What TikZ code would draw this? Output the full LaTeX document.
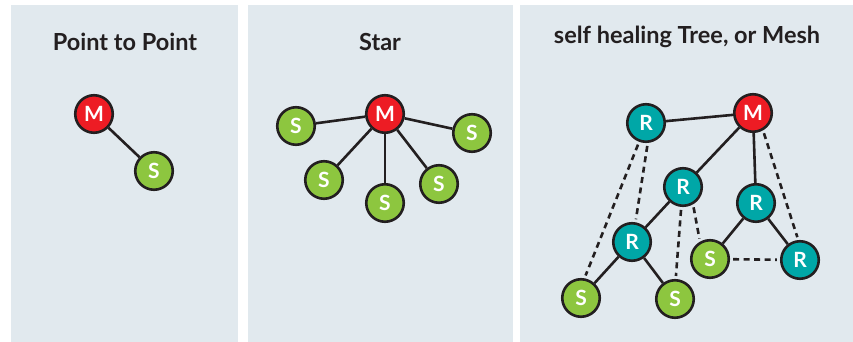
\documentclass[tikz,border=0pt]{standalone}
\usepackage{fontspec}
\setmainfont{Lato}
\definecolor{panelbg}{HTML}{E1E9EE}
\definecolor{edgeblk}{HTML}{231F20}
\definecolor{mred}{HTML}{ED1C24}
\definecolor{sgreen}{HTML}{8DC63F}
\definecolor{rteal}{HTML}{00A7A7}
\tikzset{
  unit/.style={circle,draw=edgeblk,line width=2.6pt,minimum size=37.5pt,inner sep=0pt,
    text=white,font=\fontsize{21}{21}\selectfont\bfseries},
  mnode/.style={unit,fill=mred},
  snode/.style={unit,fill=sgreen},
  rnode/.style={unit,fill=rteal},
  link/.style={draw=edgeblk,line width=2.6pt},
  backup/.style={draw=edgeblk,line width=2.6pt,dash pattern=on 6pt off 4.5pt,shorten <=3pt,shorten >=3pt},
  heading/.style={text=edgeblk,font=\fontsize{23.5}{24}\selectfont\bfseries}
}
\begin{document}
\begin{tikzpicture}[x=1pt,y=-1pt]
\useasboundingbox (0,0) rectangle (853,342);
\fill[white] (0,0) rectangle (853,342);
% panels
\fill[panelbg] (11,5) rectangle (238,342);
\fill[panelbg] (248,5) rectangle (513,342);
\fill[panelbg] (520,5) rectangle (853,342);
\node[heading] (t1) at (125,42) {Point to Point};
\node[heading] (t2) at (380,42) {Star};
\node[heading] (t3) at (687,37) {self healing Tree, or Mesh};
% point to point
\node[mnode] (pm) at (94,114) {M};
\node[snode] (ps) at (154,171) {S};
\draw[link] (pm) -- (ps);
% star
\node[mnode] (sm) at (385,114) {M};
\node[snode] (s1) at (296,126) {S};
\node[snode] (s2) at (324,180) {S};
\node[snode] (s3) at (385,203) {S};
\node[snode] (s4) at (439,184) {S};
\node[snode] (s5) at (472,133) {S};
\foreach \n in {s1,s2,s3,s4,s5}
  \draw[link] (sm) -- (\n);
% self healing tree / mesh
\node[mnode] (tm) at (753,113) {M};
\node[rnode] (r1) at (646,123) {R};
\node[rnode] (r2) at (683,187) {R};
\node[rnode] (r3) at (756,203) {R};
\node[rnode] (r4) at (632,242) {R};
\node[rnode] (r5) at (800,260) {R};
\node[snode] (t1s) at (710,259) {S};
\node[snode] (t2s) at (581,298) {S};
\node[snode] (t3s) at (675,299) {S};
\draw[link] (r1) -- (tm);
\draw[link] (tm) -- (r2);
\draw[link] (tm) -- (r3);
\draw[link] (r2) -- (r4);
\draw[link] (r4) -- (t2s);
\draw[link] (r4) -- (t3s);
\draw[link] (r3) -- (t1s);
\draw[link] (r3) -- (r5);
\draw[backup] (r1.250) -- (t2s.80);
\draw[backup] (r1.275) -- (r4.80);
\draw[backup] (r2.265) -- (t3s.88);
\draw[backup] (r2.300) -- (t1s.120);
\draw[backup] (tm.300) -- (r5.95);
\draw[backup] (t1s) -- (r5);
\end{tikzpicture}
\end{document}
